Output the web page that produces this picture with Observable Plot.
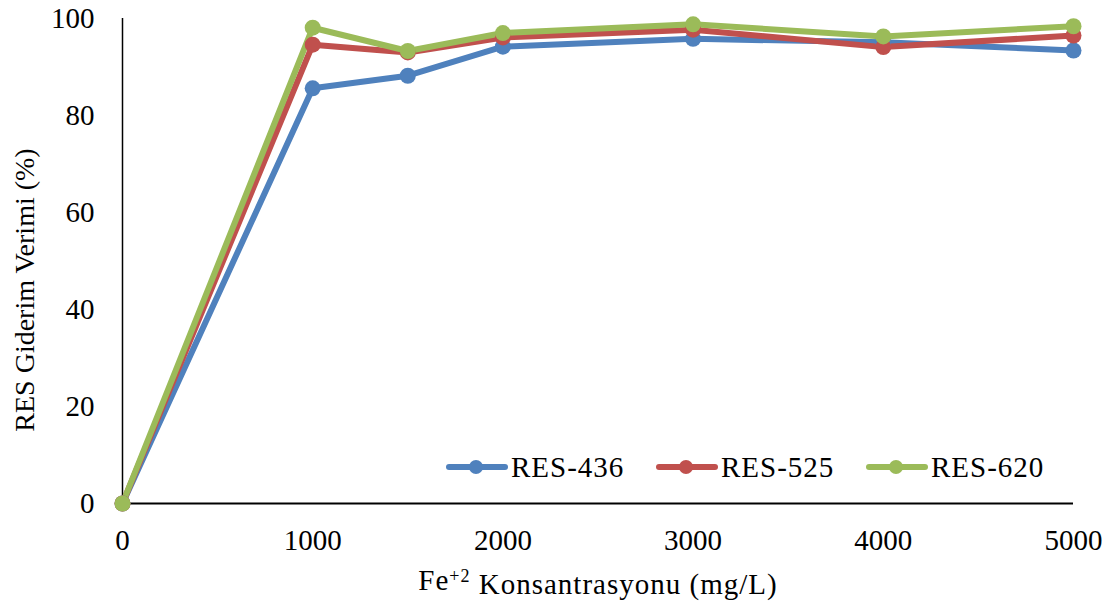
<!DOCTYPE html>
<html>
<head>
<meta charset="utf-8">
<script src="https://cdn.jsdelivr.net/npm/d3@7"></script>
<script src="https://cdn.jsdelivr.net/npm/@observablehq/plot@0.6"></script>
<style>
  html, body { margin: 0; padding: 0; background: #fff; }
  #wrap { position: relative; width: 1115px; height: 605px; }
  #chart svg, #chart svg text { font-family: "Liberation Serif", "Times New Roman", serif !important; }
  #chart svg text { font-size: 29px; fill: #000; }
  #chart svg text.xlab { letter-spacing: 1px; }
  #chart svg text.ylab { font-size: 28px; }
  .item { position: absolute; top: 452px; display: flex; align-items: center; font-family: "Liberation Serif", "Times New Roman", serif; font-size: 29px; letter-spacing: 1px; color: #000; line-height: 30px; }
  .item svg { margin-right: 3px; }
</style>
</head>
<body>
<div id="wrap">
  <div id="chart"></div>
</div>
<script>
const concentrations = [0, 1000, 1500, 2000, 3000, 4000, 5000];
const res436 = [0, 85.6, 88.2, 94.2, 95.8, 95.1, 93.4];
const res525 = [0, 94.6, 93.0, 96.1, 97.7, 94.1, 96.5];
const res620 = [0, 98.1, 93.3, 97.0, 98.8, 96.3, 98.4];
const seriesNames = ["RES-436", "RES-525", "RES-620"];
const seriesColors = ["#4F81BD", "#C0504D", "#9BBB59"];
const xTicks = [0, 1000, 2000, 3000, 4000, 5000];
const yTicks = [0, 20, 40, 60, 80, 100];
const xLabel = "Fe+2 Konsantrasyonu (mg/L)";
const yLabel = "RES Giderim Verimi (%)";

const values = [res436, res525, res620];
const data = [];
seriesNames.forEach((name, i) => {
  concentrations.forEach((c, j) => data.push({series: name, x: c, y: values[i][j]}));
});

const chart = Plot.plot({
  width: 1115,
  height: 605,
  marginLeft: 122,
  marginRight: 42,
  marginTop: 18,
  marginBottom: 102,
  style: {background: "#fff"},
  x: {domain: [0, 5000], ticks: xTicks, tickFormat: "d", tickSize: 0, tickPadding: 26, label: xLabel, labelAnchor: "center", labelOffset: 86, labelArrow: "none"},
  y: {domain: [0, 100], ticks: yTicks, tickSize: 0, tickPadding: 28, label: yLabel, labelAnchor: "center", labelOffset: 108, labelArrow: "none"},
  color: {domain: seriesNames, range: seriesColors},
  marks: [
    Plot.ruleX([0], {stroke: "#000", strokeWidth: 1.5}),
    Plot.ruleY([0], {stroke: "#000", strokeWidth: 2.2}),
    Plot.line(data, {x: "x", y: "y", z: "series", stroke: "series", strokeWidth: 6, strokeLinejoin: "round", strokeLinecap: "round"}),
    Plot.dot(data, {x: "x", y: "y", fill: "series", r: 8})
  ]
});
document.getElementById("chart").appendChild(chart);

const ns = "http://www.w3.org/2000/svg";
chart.querySelectorAll("text").forEach(t => {
  if (t.textContent === xLabel) {
    t.classList.add("xlab");
    t.textContent = "";
    const a = document.createElementNS(ns, "tspan"); a.textContent = "Fe";
    const b = document.createElementNS(ns, "tspan"); b.textContent = "+2"; b.setAttribute("dy", "-0.4em"); b.setAttribute("font-size", "18px");
    const c = document.createElementNS(ns, "tspan"); c.textContent = " Konsantrasyonu (mg/L)"; c.setAttribute("dy", "0.4em");
    t.append(a, b, c);
  } else if (t.textContent === yLabel) {
    t.classList.add("ylab");
    // label sits slightly below the axis centre in the reference
    const tr = t.getAttribute("transform") || "";
    t.setAttribute("transform", "translate(0,29) " + tr);
  }
});

// Legend (HTML overlay inside the plot area)
const wrap = document.getElementById("wrap");
const legendLeft = [446, 656, 866];
seriesNames.forEach((name, i) => {
  const item = document.createElement("div");
  item.className = "item";
  item.style.left = legendLeft[i] + "px";
  item.innerHTML = `<svg width="62" height="30"><line x1="3" y1="15" x2="59" y2="15" stroke="${seriesColors[i]}" stroke-width="6" stroke-linecap="round"/><circle cx="30" cy="15" r="7" fill="${seriesColors[i]}"/></svg><span>${name}</span>`;
  wrap.appendChild(item);
});
</script>
</body>
</html>
